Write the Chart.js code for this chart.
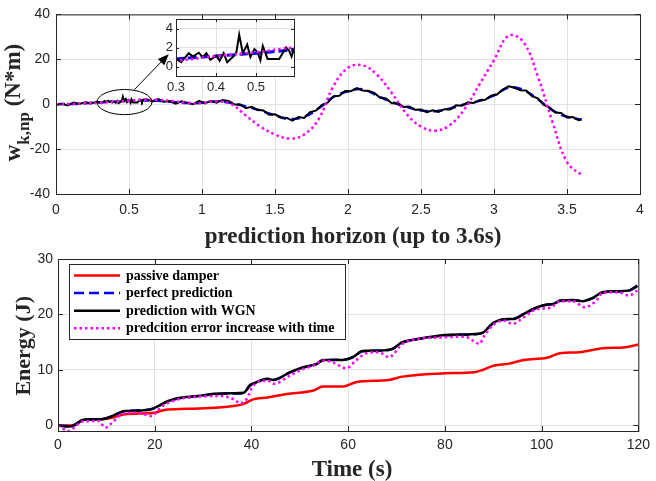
<!DOCTYPE html>
<html>
<head>
<meta charset="utf-8">
<script src="https://cdn.jsdelivr.net/npm/chart.js@4.4.1/dist/chart.umd.min.js"></script>
<style>
  html, body { margin: 0; padding: 0; background: #fff; }
  #wrap { position: relative; width: 656px; height: 481px; overflow: hidden; }
  canvas { position: absolute; }
  #topChart { left: 0; top: 0; }
  #energyChart { left: 0; top: 240px; }
  #insetChart { left: 136px; top: 8px; }
</style>
</head>
<body>
<div id="wrap">
  <canvas id="topChart" width="656" height="252"></canvas>
  <canvas id="energyChart" width="656" height="241"></canvas>
  <canvas id="insetChart" width="170" height="92"></canvas>
</div>
<script>
// ---- top plot: w_k,np over the prediction horizon ----
const predT = [0, 0.1, 0.2, 0.3, 0.4, 0.5, 0.6, 0.7, 0.8, 0.9, 1.0, 1.1, 1.2, 1.3, 1.4, 1.5, 1.6, 1.7, 1.8,
  1.9, 2.0, 2.1, 2.2, 2.3, 2.4, 2.5, 2.6, 2.7, 2.8, 2.9, 3.0, 3.1, 3.2, 3.3, 3.4, 3.5, 3.6];
const perfectW = [0, 0.1, 0.4, 0.8, 1.1, 1.4, 1.7, 1.5, 1.0, 0.5, 0.6, 1.3, 0.6, -1.0, -2.8, -5.0, -6.6, -5.6, -1.8,
  3.2, 5.8, 6.6, 3.8, 1.0, -1.2, -2.8, -3.1, -1.9, 0.0, 1.5, 3.9, 7.4, 6.4, 2.2, -2.7, -5.6, -6.8];
const errorW = [0, 0.1, 0.4, 0.6, 1.1, 1.5, 2.0, 1.9, 1.4, 0.6, 0.5, 1.3, 0.0, -5.0, -10.0, -13.5, -15.3, -13.5, -6.5,
  8.0, 16.2, 17.3, 13.0, 5.0, -4.2, -10.0, -11.8, -9.2, -2.0, 8.8, 19.6, 30.5, 27.8, 12.4, -7.8, -25.8, -31.6];

const wgnT = [0, 0.04, 0.08, 0.12, 0.16, 0.2, 0.24, 0.28,
  0.298, 0.313, 0.332, 0.342, 0.357, 0.367, 0.376, 0.386, 0.401, 0.409, 0.419, 0.428, 0.443, 0.451,
  0.458, 0.467, 0.478, 0.486, 0.496, 0.504, 0.511, 0.517, 0.529, 0.558, 0.575, 0.583, 0.589, 0.596,
  0.62, 0.66, 0.70, 0.74, 0.78, 0.82, 0.86, 0.90, 0.94, 0.98, 1.02, 1.06, 1.10, 1.14, 1.18, 1.22,
  1.26, 1.30, 1.34, 1.38, 1.42, 1.46, 1.50, 1.54, 1.58, 1.62, 1.66, 1.70, 1.74, 1.78, 1.82, 1.86,
  1.90, 1.94, 1.98, 2.02, 2.06, 2.10, 2.14, 2.18, 2.22, 2.26, 2.30, 2.34, 2.38, 2.42, 2.46, 2.50,
  2.54, 2.58, 2.62, 2.66, 2.70, 2.74, 2.78, 2.82, 2.86, 2.90, 2.94, 2.98, 3.02, 3.06, 3.10, 3.14,
  3.18, 3.22, 3.26, 3.30, 3.34, 3.38, 3.42, 3.46, 3.50, 3.54, 3.58, 3.60];
const wgnW = [-0.3, 0.2, -0.6, 0.7, 0.1, 0.9, 0.3, 1.1,
  0.85, 0.45, 1.4, 1.05, 1.45, 0.95, 1.4, 0.7, 1.14, 0.6, 1.4, 0.45, 1.04, 1.5,
  3.35, 1.4, 2.3, 1.0, 1.83, 1.5, 0.65, 2.15, 0.8, 0.8, 2.0, 1.65, 1.05, 2.0,
  2.2, 1.2, 2.3, 1.1, 1.4, 0.2, 1.3, 0.6, 0.0, 1.5, 0.4, 1.4, 0.7, 1.9, 1.4, -0.1,
  -0.1, -1.8, -1.2, -2.5, -2.8, -4.7, -4.5, -5.9, -6.1, -7.3, -5.7, -6.1, -3.5, -2.9, -0.4, 0.7,
  3.5, 3.8, 5.9, 5.8, 7.2, 6.1, 5.9, 5.0, 2.9, 2.6, 0.4, 0.4, -1.2, -1.0, -2.5, -2.4,
  -3.6, -2.7, -3.4, -2.2, -2.3, -0.5, -0.7, 0.8, 0.5, 1.8, 2.0, 3.8, 4.3, 6.5, 8.0, 7.3,
  6.2, 6.1, 3.6, 2.6, -0.3, -1.4, -3.7, -3.9, -5.9, -5.7, -7.1, -6.8];

const topXTicks = [0, 0.5, 1, 1.5, 2, 2.5, 3, 3.5, 4];
const topYTicks = [-40, -20, 0, 20, 40];
const insetXTicks = [0.3, 0.4, 0.5];
const insetYTicks = [0, 2, 4];

// ---- bottom plot: energy ----
const passiveT = [0, 3.3, 5.0, 9.1, 11.2, 13.9, 20.0, 22.0, 26.8, 36.3, 38.4, 40.4, 43.3, 47.3, 52.8, 54.8,
  58.9, 61.6, 68.4, 71.2, 80, 86.1, 87.8, 90.2, 93, 96.3, 101.1, 103.8, 107.8, 112.6, 117.3, 120];
const passiveE = [0, 0.0, 0.95, 1.14, 1.4, 2.0, 2.3, 2.8, 3.0, 3.5, 3.9, 4.7, 5.05, 5.65, 6.3, 7.0,
  7.0, 7.8, 8.2, 8.8, 9.4, 9.6, 10.0, 10.8, 11.1, 11.8, 12.2, 13.0, 13.2, 13.9, 14.1, 14.6];

const wgnTime = [0, 2.3, 3.3, 5.0, 6.4, 9.1, 11.2, 13.2, 14.2, 17.3, 19.3, 20.7, 22.8, 24.8, 28.9, 32.3,
  36.3, 38.4, 39.7, 40.5, 43.3, 44.6, 48, 50.7, 53.5, 54.8, 58.9, 60.9, 63.0, 66.4, 69.1, 71.2, 73.2,
  77.3, 80, 84, 87.5, 90.2, 93, 94.3, 96.3, 99.1, 101.1, 102.4, 103.8, 106.5, 108.5, 110.6, 112.6,
  115.3, 118, 119.8];
const perfectE = [0, -0.1, 0.1, 0.9, 1.1, 1.15, 1.65, 2.45, 2.6, 2.75, 2.95, 3.45, 4.35, 4.85, 5.25, 5.65,
  5.75, 5.85, 7.2, 7.55, 8.35, 8.25, 9.55, 10.45, 11.05, 11.75, 11.85, 12.25, 13.35, 13.45, 13.75, 14.95, 15.35,
  15.95, 16.25, 16.35, 16.6, 18.55, 19.15, 19.25, 20.05, 21.25, 21.75, 21.85, 22.45, 22.55, 22.45, 22.95, 23.95,
  24.15, 24.3, 25.1];
const wgnE = [0, -0.2, 0.0, 0.95, 1.14, 1.14, 1.7, 2.5, 2.6, 2.7, 2.9, 3.5, 4.4, 4.9, 5.3, 5.7,
  5.8, 5.9, 7.3, 7.6, 8.4, 8.2, 9.6, 10.5, 11.1, 11.8, 11.8, 12.3, 13.4, 13.5, 13.8, 15.0, 15.4,
  16.0, 16.3, 16.4, 16.6, 18.6, 19.2, 19.2, 20.1, 21.3, 21.8, 21.9, 22.5, 22.6, 22.4, 23.0, 24.0,
  24.2, 24.3, 25.2];

const errTime = [0, 2.3, 3.3, 5.0, 8.4, 9.8, 11.2, 13.2, 16.6, 19.3, 21.4, 24.8, 28.9, 33.6, 36.3, 37.7,
  39.0, 40.4, 43.3, 44.6, 48, 50.7, 52.8, 54.8, 56.8, 59.6, 61.6, 63.7, 66.4, 68.4, 71.2, 73.2, 80,
  84.1, 85.8, 87.1, 88.2, 90.2, 92.2, 94, 96.3, 99.1, 101.8, 103.8, 106.5, 108.9, 111.3, 112.6, 116,
  118, 119.8];
const errE = [0, -1.0, -0.4, 0.7, 0.8, -0.4, 0.5, 2.0, 2.3, 1.7, 3.4, 4.7, 5.2, 5.3, 4.75, 4.0,
  4.75, 7.2, 8.1, 7.5, 9.0, 10.2, 10.8, 11.7, 11.4, 10.3, 11.7, 13.0, 13.2, 12.3, 14.7, 15.4, 15.9,
  16.0, 15.3, 14.7, 16.2, 18.3, 18.9, 18.3, 19.5, 21.0, 21.2, 22.4, 22.4, 21.3, 22.5, 23.9, 24.0,
  23.4, 24.3];

const energyXTicks = [0, 20, 40, 60, 80, 100, 120];
const energyYTicks = [0, 10, 20, 30];

const legendLabels = ['passive damper', 'perfect prediction', 'prediction with WGN',
  'predcition error increase with time'];

// ---------------------------------------------------------------
Chart.defaults.font.family = '"Liberation Sans", Arial, sans-serif';
Chart.defaults.color = '#262626';

const AXIS = '#262626';
const GRID = '#e2e2e2';
const SERIF = '"Liberation Serif", "Times New Roman", serif';

function xy(ts, vs) {
  return ts.map((t, i) => ({ x: t, y: vs[i] }));
}

function axis(min, max, ticks, size, fontSize, pad, horizontal) {
  return {
    type: 'linear',
    min: min,
    max: max,
    afterBuildTicks: s => { s.ticks = ticks.map(v => ({ value: v })); },
    afterFit: s => { if (horizontal) s.height = size; else s.width = size; },
    grid: { color: GRID, lineWidth: 1, drawTicks: false },
    border: { display: false },
    ticks: {
      padding: pad,
      color: AXIS,
      font: { size: fontSize },
      callback: v => String(v)
    }
  };
}

// MATLAB style box with inward ticks on all four sides
const matlabBox = {
  id: 'matlabBox',
  afterDatasetsDraw(chart, args, opts) {
    const { ctx, chartArea: a, scales: { x, y } } = chart;
    const len = opts.tickLen || 5;
    ctx.save();
    ctx.strokeStyle = AXIS;
    ctx.lineWidth = 1;
    ctx.beginPath();
    x.ticks.forEach(t => {
      const px = Math.round(x.getPixelForValue(t.value)) + 0.5;
      ctx.moveTo(px, a.bottom); ctx.lineTo(px, a.bottom - len);
      ctx.moveTo(px, a.top); ctx.lineTo(px, a.top + len);
    });
    y.ticks.forEach(t => {
      const py = Math.round(y.getPixelForValue(t.value)) + 0.5;
      ctx.moveTo(a.left, py); ctx.lineTo(a.left + len, py);
      ctx.moveTo(a.right, py); ctx.lineTo(a.right - len, py);
    });
    ctx.stroke();
    ctx.strokeRect(a.left + 0.5, a.top + 0.5, a.width, a.height);
    ctx.restore();
  }
};

// ---------------- top chart ----------------
const topDatasets = [
  {
    label: 'perfect prediction',
    data: xy(predT, perfectW),
    borderColor: '#0000ff', borderWidth: 2.5, borderDash: [9, 5],
    tension: 0.4, order: 3
  },
  {
    label: 'prediction with WGN',
    data: xy(wgnT, wgnW),
    borderColor: '#000000', borderWidth: 2,
    tension: 0, order: 2
  },
  {
    label: 'predcition error increase with time',
    data: xy(predT, errorW),
    borderColor: '#ff00ff', borderWidth: 2.5, borderDash: [2.5, 3],
    tension: 0.4, order: 1
  }
];

// ellipse around the zoomed part and arrow to the inset (data units)
const zoomMark = {
  id: 'zoomMark',
  afterDatasetsDraw(chart) {
    const { ctx, scales: { x, y } } = chart;
    const cx = x.getPixelForValue(0.469), cy = y.getPixelForValue(0.95);
    const rx = x.getPixelForValue(0.469 + 0.188) - cx;
    const ry = cy - y.getPixelForValue(0.95 + 5.6);
    ctx.save();
    ctx.strokeStyle = '#000';
    ctx.lineWidth = 1;
    ctx.beginPath();
    ctx.ellipse(cx, cy, rx, ry, 0, 0, Math.PI * 2);
    ctx.stroke();
    const x0 = x.getPixelForValue(0.537), y0 = y.getPixelForValue(6.5);
    const x1 = x.getPixelForValue(0.772), y1 = y.getPixelForValue(22.3);
    const ang = Math.atan2(y1 - y0, x1 - x0);
    const head = 11, half = 4.5;
    const bx = x1 - head * Math.cos(ang), by = y1 - head * Math.sin(ang);
    ctx.beginPath();
    ctx.moveTo(x0, y0); ctx.lineTo(bx, by);
    ctx.stroke();
    ctx.fillStyle = '#000';
    ctx.beginPath();
    ctx.moveTo(x1, y1);
    ctx.lineTo(bx + half * Math.sin(ang), by - half * Math.cos(ang));
    ctx.lineTo(bx - half * Math.sin(ang), by + half * Math.cos(ang));
    ctx.closePath();
    ctx.fill();
    ctx.restore();
  }
};

const topLabels = {
  id: 'topLabels',
  afterDraw(chart) {
    const { ctx } = chart;
    ctx.save();
    ctx.fillStyle = AXIS;
    ctx.textBaseline = 'alphabetic';
    ctx.textAlign = 'center';
    ctx.font = 'bold 23px ' + SERIF;
    ctx.fillText('prediction horizon (up to 3.6s)', 353, 243);

    // y label w_{k,np} (N*m), rotated
    const mainFont = 'bold 23px ' + SERIF, subFont = 'bold 17px ' + SERIF;
    ctx.font = mainFont; const w1 = ctx.measureText('w').width;
    const w3 = ctx.measureText(' (N*m)').width;
    ctx.font = subFont; const w2 = ctx.measureText('k,np').width;
    const total = w1 + w2 + w3;
    ctx.translate(19.5, 102.5);
    ctx.rotate(-Math.PI / 2);
    ctx.textAlign = 'left';
    let pos = -total / 2;
    ctx.font = mainFont; ctx.fillText('w', pos, 0); pos += w1;
    ctx.font = subFont; ctx.fillText('k,np', pos, 9.5); pos += w2;
    ctx.font = mainFont; ctx.fillText(' (N*m)', pos, 0);
    ctx.restore();
  }
};

new Chart(document.getElementById('topChart'), {
  type: 'line',
  data: { datasets: topDatasets },
  options: {
    responsive: false,
    animation: false,
    layout: { padding: { left: 0, right: 16, top: 9, bottom: 0 }, autoPadding: false },
    elements: { point: { radius: 0 } },
    plugins: { legend: { display: false }, tooltip: { enabled: false }, matlabBox: { tickLen: 5 } },
    scales: {
      x: axis(0, 4, topXTicks, 58, 14, 8, true),
      y: axis(-40, 40, topYTicks, 56, 14, 6, false)
    }
  },
  plugins: [zoomMark, matlabBox, topLabels]
});

// ---------------- inset ----------------
const whiteArea = {
  id: 'whiteArea',
  beforeDraw(chart) {
    const { ctx, chartArea: a } = chart;
    ctx.save();
    ctx.fillStyle = '#fff';
    ctx.fillRect(a.left, a.top, a.width, a.height);
    ctx.restore();
  }
};

new Chart(document.getElementById('insetChart'), {
  type: 'line',
  data: {
    datasets: [
      { data: xy(predT, perfectW), borderColor: '#0000ff', borderWidth: 3, borderDash: [9, 4], tension: 0.4, order: 3 },
      { data: xy(wgnT, wgnW), borderColor: '#000000', borderWidth: 2, tension: 0, order: 2 },
      { data: xy(predT, errorW), borderColor: '#ff00ff', borderWidth: 2.5, borderDash: [2.5, 3], tension: 0.4, order: 1 }
    ]
  },
  options: {
    responsive: false,
    animation: false,
    layout: { padding: { left: 0, right: 12, top: 11, bottom: 0 }, autoPadding: false },
    elements: { point: { radius: 0 } },
    plugins: { legend: { display: false }, tooltip: { enabled: false }, matlabBox: { tickLen: 3 } },
    scales: {
      x: axis(0.3, 0.595, insetXTicks, 24, 13, 4, true),
      y: axis(-1, 5, insetYTicks, 40, 13, 3, false)
    }
  },
  plugins: [whiteArea, matlabBox]
});

// ---------------- bottom chart ----------------
const energyDatasets = [
  {
    label: legendLabels[0], data: xy(passiveT, passiveE),
    borderColor: '#ff0000', borderWidth: 2.5, cubicInterpolationMode: 'monotone', order: 4
  },
  {
    label: legendLabels[1], data: xy(wgnTime, perfectE),
    borderColor: '#0000ff', borderWidth: 2.5, borderDash: [10, 5], cubicInterpolationMode: 'monotone', order: 3
  },
  {
    label: legendLabels[2], data: xy(wgnTime, wgnE),
    borderColor: '#000000', borderWidth: 2.5, cubicInterpolationMode: 'monotone', order: 2
  },
  {
    label: legendLabels[3], data: xy(errTime, errE),
    borderColor: '#ff00ff', borderWidth: 2.5, borderDash: [2.5, 3], cubicInterpolationMode: 'monotone', order: 1
  }
];

const energyLegend = {
  id: 'energyLegend',
  afterDatasetsDraw(chart) {
    const { ctx, chartArea: a } = chart;
    const left = a.left + 11, top = a.top + 5, w = 276, h = 75;
    ctx.save();
    ctx.fillStyle = '#fff';
    ctx.fillRect(left, top, w, h);
    ctx.strokeStyle = AXIS;
    ctx.lineWidth = 1;
    ctx.strokeRect(left + 0.5, top + 0.5, w, h);
    ctx.font = 'bold 14px ' + SERIF;
    ctx.textAlign = 'left';
    ctx.textBaseline = 'middle';
    chart.data.datasets.forEach((ds, i) => {
      const yy = top + 11.5 + i * 17.6;
      ctx.strokeStyle = ds.borderColor;
      ctx.lineWidth = ds.borderWidth;
      ctx.setLineDash(ds.borderDash || []);
      ctx.beginPath();
      ctx.moveTo(left + 5, yy);
      ctx.lineTo(left + 51, yy);
      ctx.stroke();
      ctx.setLineDash([]);
      ctx.fillStyle = '#000';
      ctx.fillText(ds.label, left + 57, yy + 0.5);
    });
    ctx.restore();
  }
};

const energyLabels = {
  id: 'energyLabels',
  afterDraw(chart) {
    const { ctx } = chart;
    ctx.save();
    ctx.fillStyle = AXIS;
    ctx.textAlign = 'center';
    ctx.textBaseline = 'alphabetic';
    ctx.font = 'bold 23px ' + SERIF;
    ctx.fillText('Time (s)', 352, 236);
    ctx.font = 'bold 22px ' + SERIF;
    ctx.translate(29.5, 105.8);
    ctx.rotate(-Math.PI / 2);
    ctx.fillText('Energy (J)', 0, 0);
    ctx.restore();
  }
};

new Chart(document.getElementById('energyChart'), {
  type: 'line',
  data: { datasets: energyDatasets },
  options: {
    responsive: false,
    animation: false,
    layout: { padding: { left: 0, right: 11, top: 19, bottom: 0 }, autoPadding: false },
    elements: { point: { radius: 0 } },
    plugins: { legend: { display: false }, tooltip: { enabled: false }, matlabBox: { tickLen: 5 } },
    scales: {
      x: axis(0, 120, energyXTicks, 50, 14, 6, true),
      y: axis(-1, 30, energyYTicks, 58, 14, 5, false)
    }
  },
  plugins: [matlabBox, energyLegend, energyLabels]
});
</script>
</body>
</html>
